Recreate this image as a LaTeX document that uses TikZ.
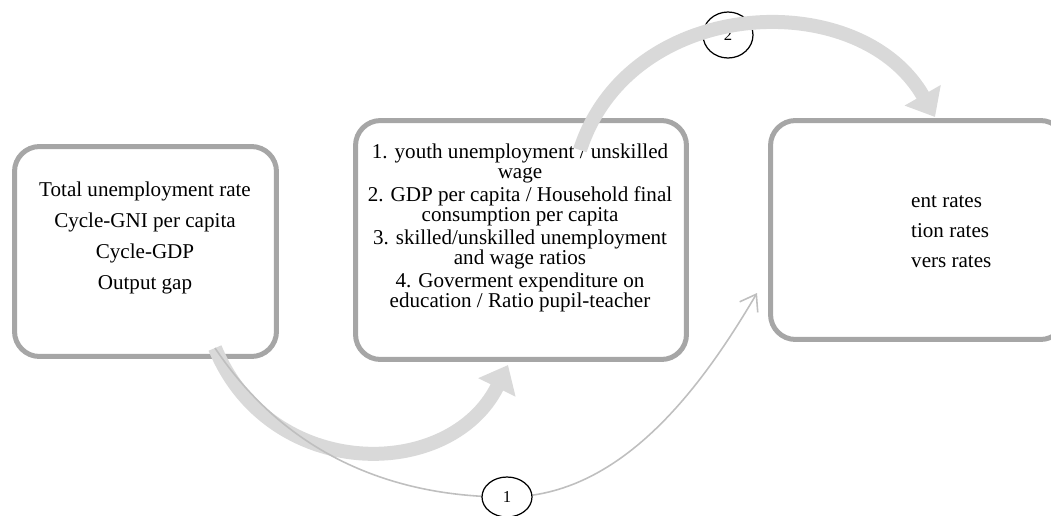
\documentclass[tikz,border=0pt]{standalone}
\usepackage{fontspec}
\setmainfont{Liberation Serif}
\usetikzlibrary{arrows.meta,shapes.geometric}

\begin{document}
\begin{tikzpicture}[x=0.02cm, y=-0.02cm,
  box/.style={draw=black!35, line width=0.1cm, rounded corners=0.5cm},
  boxtext/.style={align=center, font=\fontsize{12}{17.6}\selectfont},
  numring/.style={ellipse, draw=black, line width=0.7pt, fill=white, inner sep=0pt, font=\fontsize{9.5}{10}\selectfont},
  bigarrow/.style={draw=black!15, line width=0.28cm, -{Triangle[width=0.8cm,length=0.5cm]}},
  thinarrow/.style={draw=black!25, line width=0.9pt, -{Straight Barb[length=0.3cm,width=0.42cm]}}]
\useasboundingbox (0,0) rectangle (1051,515);
\clip (0,0) rectangle (1051,515);

% boxes
\node[box, minimum width=5.24cm, minimum height=4.2cm] (cycle) at (145.5,251.5) {};
\node[box, minimum width=6.62cm, minimum height=4.78cm] (ratios) at (521,240) {};
\node[box, minimum width=5.9cm, minimum height=4.38cm] (rates) at (918,230) {};

% texts
\node[boxtext] (cycletext) at (145,238) {Total unemployment rate\\Cycle-GNI per capita\\Cycle-GDP\\Output gap};
\node[boxtext, font=\fontsize{12}{11.4}\selectfont] (ratiotext) at (520,228)
  {1. youth unemployment / unskilled\\wage\\[1.7pt]
   2. GDP per capita / Household final\\consumption per capita\\[1.7pt]
   3. skilled/unskilled unemployment\\and wage ratios\\[1.7pt]
   4. Goverment expenditure on\\education / Ratio pupil-teacher};
\node[boxtext, align=left, anchor=west, font=\fontsize{12}{17}\selectfont] (ratetext) at (905,232)
  {ent rates\\tion rates\\vers rates};

\node[numring, minimum width=1cm, minimum height=0.92cm] (two) at (728,35) {2};

% arrows
\coordinate (s1) at (215,348);
\coordinate (s2) at (580,150);
\coordinate (t1) at (508,365);
\coordinate (t2) at (935,117);
\coordinate (t3) at (757,293);
\coordinate (low) at (507,497);
\draw[bigarrow] (s1) .. controls (270,482) and (450,482) .. (t1);
\draw[bigarrow] (s2) .. controls (630,-5) and (860,-15) .. (t2);
\draw[thinarrow] (s1) .. controls (290,460) and (400,497) .. (low)
  .. controls (620,497) and (700,390) .. (t3);

\node[numring, minimum width=1cm, minimum height=0.8cm] (one) at (low) {1};
\end{tikzpicture}
\end{document}
